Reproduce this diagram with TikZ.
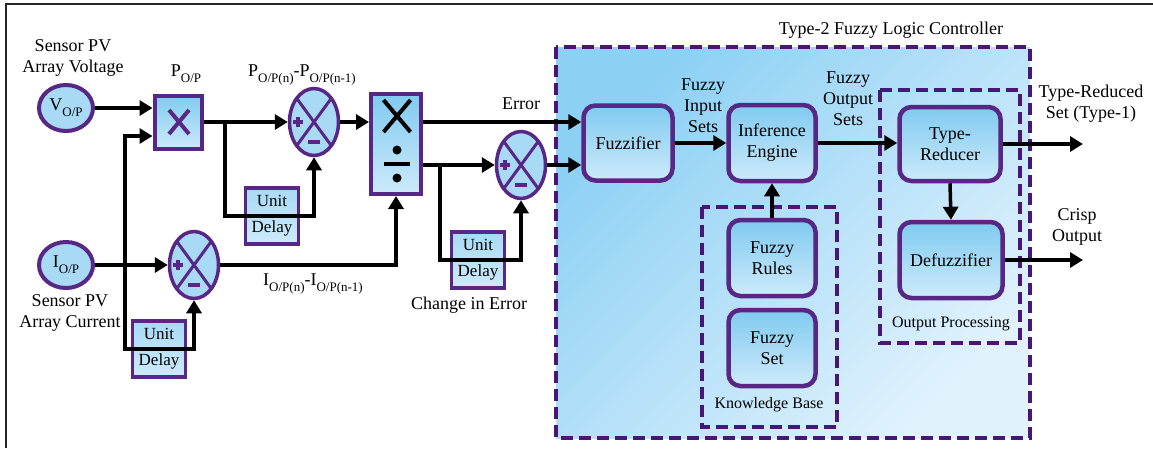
\documentclass[tikz,border=0pt]{standalone}
\usepackage{fontspec}
\setmainfont{Liberation Serif}
\usetikzlibrary{shapes.geometric,arrows.meta,calc}
\definecolor{purp}{RGB}{88,38,132}
\definecolor{dpurp}{RGB}{72,22,118}
\definecolor{lblue}{RGB}{168,218,245}
\definecolor{bluetop}{RGB}{128,202,240}
\definecolor{bluebot}{RGB}{205,234,251}
\definecolor{bgA}{RGB}{140,208,244}
\definecolor{bgB}{RGB}{225,242,253}
\newcommand\sbs[1]{\raisebox{-6pt}{\fontsize{13}{13}\selectfont #1}}
\begin{document}
\begin{tikzpicture}[x=1pt,y=-1pt,
  every node/.style={font=\fontsize{18}{21}\selectfont},
  wire/.style={line width=4pt},
  arr/.style={line width=4pt,-{Triangle[length=13pt,width=15pt]}},
  dashbox/.style={draw=dpurp,line width=4pt,dash pattern=on 12pt off 6pt},
  ellnode/.style={ellipse,draw=purp,line width=4pt,fill=lblue,minimum width=54pt,minimum height=46pt,inner sep=0pt},
  sumnode/.style={ellipse,draw=purp,line width=3.5pt,fill=lblue,minimum width=49pt,minimum height=67pt,inner sep=0pt,
    path picture={
      \draw[purp,line width=3pt] (path picture bounding box.north west) -- (path picture bounding box.south east)
            (path picture bounding box.north east) -- (path picture bounding box.south west);
      \begin{scope}[shift={(path picture bounding box.center)}]
        \draw[purp,line width=3.5pt] (-21,0) -- (-11,0) (-16,-5) -- (-16,5);
        \draw[purp,line width=4pt] (-6,20) -- (6,20);
      \end{scope}}},
  mulbox/.style={rectangle,draw=purp,line width=4pt,top color=bluetop,bottom color=bluebot,minimum width=47pt,minimum height=53pt,inner sep=0pt,
    path picture={
      \begin{scope}[shift={(path picture bounding box.center)}]
        \draw[purp,line width=4pt] (-9,-12) -- (11,12) (11,-12) -- (-9,12);
      \end{scope}}},
  divbox/.style={rectangle,draw=purp,line width=4pt,top color=bluetop,bottom color=bluebot,minimum width=50pt,minimum height=100pt,inner sep=0pt,
    path picture={
      \begin{scope}[shift={(path picture bounding box.center)}]
        \draw[black,line width=4pt] (-12.5,-44) -- (14.5,-12) (14.5,-44) -- (-12.5,-12);
        \fill[black] (1,6) circle (4.5pt) (1,34) circle (4.5pt);
        \draw[black,line width=4.5pt] (-12,20) -- (14,20);
      \end{scope}}},
  dbox/.style={rectangle,draw=purp,line width=3.5pt,top color=lblue,bottom color=bluebot,minimum width=53pt,minimum height=56pt,inner sep=0pt,align=center,font=\fontsize{17}{26}\selectfont},
  fblock/.style={rectangle,rounded corners=12pt,draw=purp,line width=4.5pt,top color=bluetop,bottom color=bluebot,align=center,inner sep=0pt},
  small/.style={font=\fontsize{16}{19}\selectfont}
]
\useasboundingbox (0,0) rectangle (1153,448);
\draw[line width=1.5pt,black!85] (6,448) -- (6,4) -- (1153,4);

% controller background
\draw[dashbox,top color=bgA,bottom color=bgB,shading angle=45] (556,47) rectangle (1030,438);
\draw[dashbox] (880,90) rectangle (1020,343);
\draw[dashbox] (702,207) rectangle (837,427);

% nodes
\node[ellnode] (V) at (66,108) {V\sbs{O/P}};
\node[ellnode] (I) at (66,265) {I\sbs{O/P}};
\node[mulbox] (P) at (178,122) {};
\node[sumnode] (SP) at (314,122) {};
\node[sumnode] (SI) at (194,265) {};
\node[sumnode] (SE) at (521,165) {};
\node[dbox] (DP) at (272,216) {Unit\\Delay};
\node[dbox] (DI) at (159,349) {Unit\\Delay};
\node[dbox] (DE) at (478,260) {Unit\\Delay};
\node[divbox] (DV) at (396,144) {};
\node[fblock,minimum width=89pt,minimum height=75pt] (FZ) at (628,143) {Fuzzifier};
\node[fblock,minimum width=87pt,minimum height=76pt] (IE) at (772,143) {Inference\\Engine};
\node[fblock,minimum width=87pt,minimum height=76pt] (FR) at (772,258) {Fuzzy\\Rules};
\node[fblock,minimum width=87pt,minimum height=76pt] (FS) at (772,348) {Fuzzy\\Set};
\node[fblock,minimum width=101pt,minimum height=74pt] (TR) at (950,144) {Type-\\Reducer};
\node[fblock,minimum width=103pt,minimum height=76pt] (DF) at (951,260) {Defuzzifier};

% labels
\node[align=center] (lV) at (73,58) {Sensor PV\\Array Voltage};
\node[align=center] (lI) at (70,313) {Sensor PV\\Array Current};
\node[anchor=base] (lP) at (186,76) {P\sbs{O/P}};
\node[anchor=base] (lPP) at (302,76) {P\sbs{O/P(n)}-P\sbs{O/P(n-1)}};
\node[anchor=base] (lII) at (313,285) {I\sbs{O/P(n)}-I\sbs{O/P(n-1)}};
\node (lErr) at (521,104) {Error};
\node (lCE) at (469,305) {Change in Error};
\node[align=center] (lFI) at (703,106) {Fuzzy\\Input\\Sets};
\node[align=center] (lFO) at (848,99) {Fuzzy\\Output\\Sets};
\node (lT2) at (891,30) {Type-2 Fuzzy Logic Controller};
\node[align=center] (lTR) at (1091,104) {Type-Reduced\\Set (Type-1)};
\node[align=center] (lCO) at (1077,227) {Crisp\\Output};
\node[small] (lOP) at (951,324) {Output Processing};
\node[small] (lKB) at (769,405) {Knowledge Base};

% coordinates
\coordinate (bI) at (125,265);
\coordinate (bP) at (225,122);
\coordinate (bE) at (440,165);
\coordinate (o1) at (1083,144);
\coordinate (o2) at (1083,260);

% wires
\draw[arr] (V.east) -- (V.east -| P.west);
\draw[arr] (I.east) -- (SI.west);
\draw[arr] (bI) |- ($(P.west)+(0,14)$);
\draw[arr] (bI) |- (DI.center) -| (SI.south);
\draw[arr] (P.east) -- (SP.west);
\draw[arr] (bP) |- (DP.center) -| (SP.south);
\draw[arr] (SP.east) -- (SP.east -| DV.west);
\draw[arr] (SI.east) -| (DV.south);
\draw[arr] ($(DV.east)+(0,-22)$) -- ($(FZ.west)+(0,-21)$);
\draw[arr] (DV.east |- SE) -- (SE.west);
\draw[arr] (bE) |- (DE.center) -| (SE.south);
\draw[arr] (SE.east) -- (SE.east -| FZ.west);
\draw[arr] (FZ.east) -- (FZ.east -| IE.west);
\draw[arr] (IE.east) -- (IE.east -| TR.west);
\draw[arr,line width=3.5pt] (TR.south) -- (DF.north);
\draw[arr,line width=3.5pt] (FR.north) -- (IE.south);
\draw[arr] (TR.east) -- (o1);
\draw[arr] (DF.east) -- (o2);
\end{tikzpicture}
\end{document}
